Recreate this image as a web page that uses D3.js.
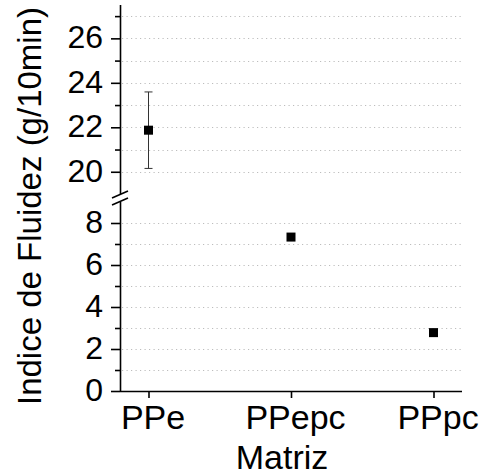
<!DOCTYPE html>
<html>
<head>
<meta charset="utf-8">
<script src="https://cdn.jsdelivr.net/npm/d3@7"></script>
<style>
  html, body { margin: 0; padding: 0; background: #fff; }
  svg { display: block; font-family: "Liberation Sans", Arial, sans-serif; }
</style>
</head>
<body>
<svg id="chart" width="482" height="475"></svg>
<script>
// Melt flow index per matrix
const categories = ["PPe", "PPepc", "PPpc"];
const values = [21.87, 7.33, 2.78];
const errors = [1.72, 0.12, 0.05];

// Broken y axis: lower segment and upper segment
const lowerMajor = [0, 2, 4, 6, 8];
const lowerMinor = [1, 3, 5, 7];
const upperMajor = [20, 22, 24, 26];
const upperMinor = [21, 23, 25, 27];
const lowerDomain = [0, 9];
const upperDomain = [19, 27.5];

const xTitle = "Matriz";
const yTitle = "Indice de Fluidez (g/10min)";

const svg = d3.select("#chart");
const left = 120, right = 462;
const fsTick = 32, fsCat = 34, fsTitle = 33;

const x = d3.scaleLinear().domain([-0.2, 2.2]).range([left, right]);
const yLow = d3.scaleLinear().domain(lowerDomain).range([391, 202]);
const yUp = d3.scaleLinear().domain(upperDomain).range([194, 5]);

// pick the segment a value belongs to
const yOf = v => v >= upperDomain[0] ? yUp(v) : yLow(v);

// dotted grid
const grid = svg.append("g");
[[yUp, upperMajor.concat(upperMinor)], [yLow, lowerMajor.slice(1).concat(lowerMinor)]]
  .forEach(([s, ticks]) => {
    grid.selectAll(null).data(ticks).enter().append("line")
      .attr("x1", left + 2).attr("x2", right)
      .attr("y1", d => Math.round(s(d)) + 0.5).attr("y2", d => Math.round(s(d)) + 0.5)
      .attr("stroke", "#bdbdbd").attr("stroke-width", 1)
      .attr("stroke-dasharray", "1.2,3.3");
  });

// y axes (two segments)
function yAxisSeg(scale, major, minor) {
  const g = svg.append("g").attr("transform", `translate(${left},0)`);
  g.call(d3.axisLeft(scale).tickValues(major).tickSize(9).tickPadding(8).tickFormat(d3.format("d")));
  g.append("g").call(d3.axisLeft(scale).tickValues(minor).tickSize(5).tickFormat(""))
    .select(".domain").remove();
  g.selectAll(".domain").attr("d", `M0.5,${scale.range()[0]}V${scale.range()[1]}`);
  g.selectAll("path, line").attr("stroke", "#000").attr("stroke-width", 1.6);
  g.selectAll("text").attr("font-size", fsTick).attr("font-family", "Liberation Sans, Arial, sans-serif")
    .attr("fill", "#000").attr("dy", "0.3em");
  return g;
}
yAxisSeg(yUp, upperMajor, upperMinor);
yAxisSeg(yLow, lowerMajor, lowerMinor);

// break marks on y axis
const brk = svg.append("g").attr("stroke", "#000").attr("stroke-width", 1.6);
[0, 7].forEach(o => {
  brk.append("line").attr("x1", left - 8).attr("y1", 198 + o).attr("x2", left + 8).attr("y2", 191 + o);
});

// x axis
const gx = svg.append("g").attr("transform", "translate(0,391)");
gx.call(d3.axisBottom(x).tickValues([0, 1, 2]).tickSize(7).tickPadding(7)
  .tickFormat(i => categories[i]));
gx.select(".domain").attr("d", `M${left},0.5H${right}`);
gx.selectAll("path, line").attr("stroke", "#000").attr("stroke-width", 1.6);
gx.selectAll("text").attr("font-size", fsCat).attr("font-family", "Liberation Sans, Arial, sans-serif")
  .attr("fill", "#000").attr("dx", 4).attr("dy", "0.7em");

// error bars
const eb = svg.append("g").attr("stroke", "#333").attr("stroke-width", 1);
values.forEach((v, i) => {
  const cx = x(i);
  const y1 = yOf(v + errors[i]), y2 = yOf(v - errors[i]);
  eb.append("line").attr("x1", cx).attr("x2", cx).attr("y1", y1).attr("y2", y2);
  eb.append("line").attr("x1", cx - 4).attr("x2", cx + 4).attr("y1", y1).attr("y2", y1);
  eb.append("line").attr("x1", cx - 4).attr("x2", cx + 4).attr("y1", y2).attr("y2", y2);
});

// square markers
svg.append("g").selectAll("rect").data(values).enter().append("rect")
  .attr("x", (d, i) => x(i) - 4.5).attr("y", d => yOf(d) - 4.5)
  .attr("width", 9).attr("height", 9).attr("fill", "#000");

// axis titles
svg.append("text").attr("x", 282).attr("y", 469).attr("text-anchor", "middle")
  .attr("font-size", fsCat).attr("fill", "#000").text(xTitle);
svg.append("text").attr("transform", "translate(41,206) rotate(-90)")
  .attr("text-anchor", "middle").attr("font-size", fsTitle).attr("fill", "#000").text(yTitle);
</script>
</body>
</html>
